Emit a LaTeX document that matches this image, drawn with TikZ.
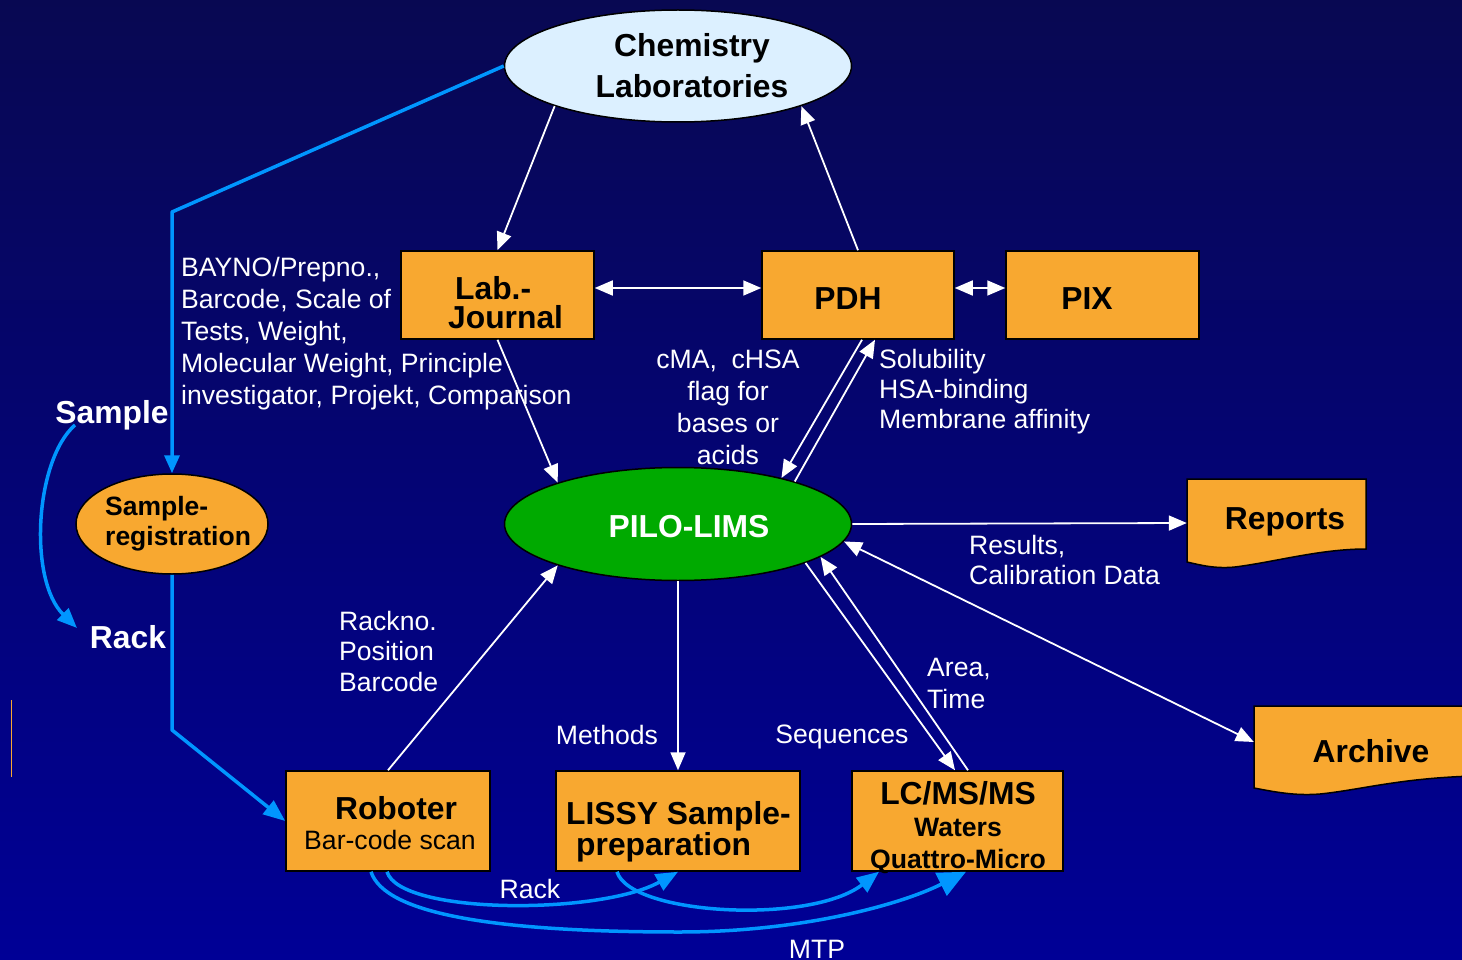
\documentclass[tikz,border=0pt]{standalone}
\usepackage{fontspec}
\setmainfont{Liberation Sans}
\usetikzlibrary{arrows.meta,shapes.geometric}
\definecolor{bgtop}{RGB}{8,8,82}
\definecolor{bgbot}{RGB}{0,0,150}
\definecolor{orng}{RGB}{248,168,48}
\definecolor{lblue}{RGB}{220,240,255}
\definecolor{lgreen}{RGB}{0,170,0}
\definecolor{bblue}{RGB}{0,150,255}
\begin{document}
\begin{tikzpicture}[x=1pt,y=-1pt,
 box/.style={draw=black,fill=orng,line width=1.5pt,inner sep=0pt,rectangle},
 ell/.style={draw=black,line width=1.5pt,ellipse,inner sep=0pt},
 big/.style={font=\fontsize{31.8}{31.8}\selectfont\bfseries,inner sep=0pt},
 bigw/.style={big,text=white},
 wlab/.style={text=white,font=\fontsize{26.6}{32}\selectfont,align=left,inner sep=0pt},
 warr/.style={draw=white,line width=1.8pt,-{Triangle[length=18pt,width=15pt]}},
 warrb/.style={draw=white,line width=1.8pt,{Triangle[length=18pt,width=15pt]}-{Triangle[length=18pt,width=15pt]}},
 barr/.style={draw=bblue,line width=3.5pt,line join=round},
]
\useasboundingbox (0,0) rectangle (1462,960);
\clip (0,0) rectangle (1462,960);
\shade[top color=bgtop,bottom color=bgbot] (0,0) rectangle (1462,960);
\draw[orng,line width=1pt] (11,700) -- (11,777);

% shapes
\node[ell,fill=lblue,minimum width=347pt,minimum height=112pt] (chem) at (678,66) {};
\node[ell,fill=lgreen,minimum width=347pt,minimum height=113pt] (pilo) at (678,524) {};
\node[ell,fill=orng,minimum width=192pt,minimum height=100pt] (sreg) at (172,524) {};
\node[box,minimum width=193pt,minimum height=88pt] (lab) at (497.5,295) {};
\node[box,minimum width=192pt,minimum height=88pt] (pdh) at (858,295) {};
\node[box,minimum width=193pt,minimum height=88pt] (pix) at (1102.5,295) {};
\node[box,minimum width=204pt,minimum height=100pt] (rob) at (388,821) {};
\node[box,minimum width=244pt,minimum height=100pt] (lissy) at (678,821) {};
\node[box,minimum width=211pt,minimum height=100pt] (lcms) at (957.5,821) {};
\node[inner sep=0pt,minimum width=179pt,minimum height=88pt] (rep) at (1276.5,523) {};
\node[inner sep=0pt,minimum width=208pt,minimum height=88pt] (arch) at (1358,750) {};
\draw[fill=orng,line width=1.5pt] (1187,479) -- (1366,479) -- (1366,549)
  .. controls (1320,549) and (1275,562) .. (1235,567)
  .. controls (1215,569) and (1200,565) .. (1187,562) -- cycle;
\draw[fill=orng,line width=1.5pt] (1254,706) -- (1475,706) -- (1475,776)
  .. controls (1400,778) and (1360,790) .. (1320,794)
  .. controls (1295,796) and (1275,792) .. (1254,788) -- cycle;

% texts in shapes
\node[big,align=center,font=\fontsize{31.8}{41}\selectfont\bfseries] (chemt) at (692,66) {Chemistry\\Laboratories};
\node[big,align=left,anchor=west,font=\fontsize{31.8}{29}\selectfont\bfseries] (labt) at (448,303) {\hspace{7pt}Lab.-\\Journal};
\node[big] (pdht) at (848,299) {PDH};
\node[big] (pixt) at (1087,299) {PIX};
\node[bigw] (pilot) at (689,527) {PILO-LIMS};
\node[align=left,anchor=west,inner sep=0pt,font=\fontsize{26.5}{30}\selectfont\bfseries] (sregt) at (105,524) {Sample-\\registration};
\node[big] (robt) at (396,808) {Roboter};
\node[inner sep=0pt,font=\fontsize{26.6}{26.6}\selectfont] (robs) at (390,840) {Bar-code scan};
\node[big,align=left,anchor=west,font=\fontsize{31.8}{28}\selectfont\bfseries] (lissyt) at (566,832) {LISSY Sample-\\\hspace{10pt}preparation};
\node[big] (lcmst) at (958,793) {LC/MS/MS};
\node[align=center,inner sep=0pt,font=\fontsize{26.6}{32}\selectfont\bfseries] (lcmss) at (958,846) {Waters\\Quattro-Micro};
\node[big] (rept) at (1285,522) {Reports};
\node[big] (archt) at (1371,751) {Archive};

% labels
\node[wlab,anchor=west] (lbay) at (181,334) {BAYNO/Prepno.,\\Barcode, Scale of\\Tests, Weight,\\Molecular Weight, Principle\\investigator, Projekt, Comparison};
\node[wlab,align=center] (lcma) at (728,407) {cMA,\ \ cHSA\\flag for\\bases or\\acids};
\node[wlab,anchor=west,font=\fontsize{26.6}{30}\selectfont] (lsol) at (879,392) {Solubility\\HSA-binding\\Membrane affinity};
\node[wlab,anchor=west,font=\fontsize{26.6}{30}\selectfont] (lres) at (969,560) {Results,\\Calibration Data};
\node[wlab,anchor=west,font=\fontsize{26.6}{30.5}\selectfont] (lrackno) at (339,651) {Rackno.\\Position\\Barcode};
\node[wlab,anchor=west] (larea) at (927,683) {Area,\\Time};
\node[wlab] (lmeth) at (607,735) {Methods};
\node[wlab] (lseq) at (842,737) {Sequences};
\node[wlab] (lrack2) at (530,889) {Rack};
\node[wlab] (lmtp) at (817,949) {MTP};
\node[bigw] (lsample) at (112,415) {Sample};
\node[bigw] (lrack) at (128,637) {Rack};

% white connectors
\draw[warr] (chem.-162.5) -- (lab.north);
\draw[warr] (pdh.north) -- (chem.-18.3);
\draw[warrb] ([yshift=7pt]lab.east) -- ([yshift=7pt]pdh.west);
\draw[warrb] ([yshift=7pt]pdh.east) -- ([yshift=7pt]pix.west);
\draw[warr] (lab.south) -- (pilo.161.1);
\draw[warr] ([xshift=4pt]pdh.south) -- (pilo.24.3);
\draw[warr] (pilo.20.5) -- ([xshift=17pt]pdh.south);
\draw[warr] (pilo.east) -- (rep.west);
\draw[warrb] (pilo.-6.2) -- ([yshift=8pt]arch.west);
\draw[warr] (pilo.south) -- (lissy.north);
\draw[warr] (rob.north) -- (pilo.-161.8);
\draw[warr] (pilo.-17.7) -- ([xshift=-2.5pt]lcms.north);
\draw[warr] ([xshift=10.5pt]lcms.north) -- (pilo.-13.7);

% blue connectors
\coordinate (b1) at (172,212);
\coordinate (b2) at (172,730);
\draw[barr,-{Triangle[length=18pt,width=15pt]}] (chem.west) -- (b1) -- (sreg.north);
\draw[barr,-{Triangle[length=22pt,width=17pt]}] (sreg.south) -- (b2) -- (rob.west);
\coordinate (s1) at (75,425);
\coordinate (s2) at (77,628);
\draw[barr,-{Triangle[length=20pt,width=16pt]}] (s1) .. controls (35,460) and (28,580) .. (s2);
\draw[barr,-{Triangle[length=22pt,width=18pt]}] ([xshift=-1pt]rob.south) .. controls (400,915) and (600,915) .. ([xshift=0pt]lissy.south);
\draw[barr,-{Triangle[length=22pt,width=18pt]}] ([xshift=-61pt]lissy.south) .. controls (630,915) and (810,925) .. ([xshift=-78.5pt]lcms.south);
\coordinate (m1) at (680,932);
\draw[barr,-{Triangle[length=28pt,width=25pt]}] ([xshift=-17pt]rob.south) .. controls (385,915) and (500,932) .. (m1) .. controls (800,932) and (900,905) .. ([xshift=8.5pt]lcms.south);
\end{tikzpicture}
\end{document}
